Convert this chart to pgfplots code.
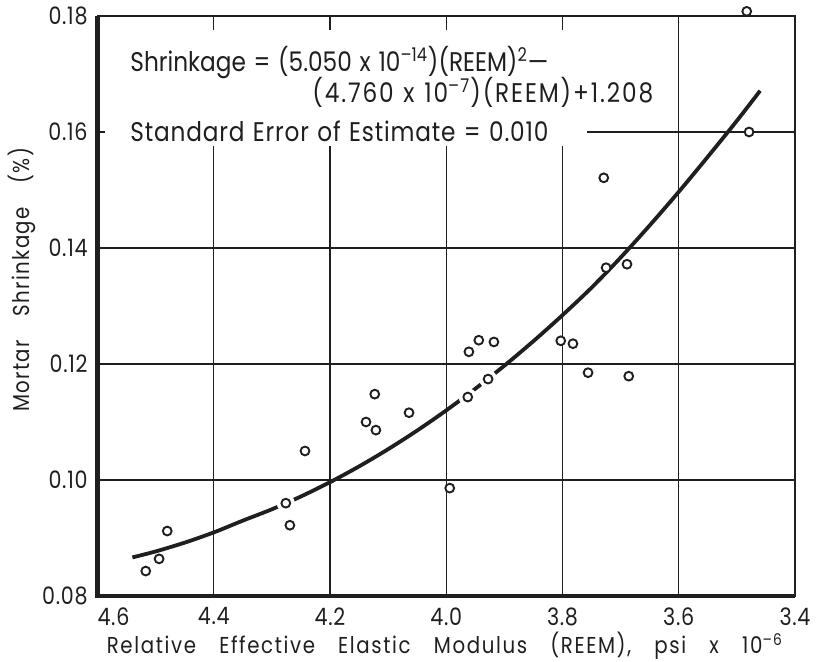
\documentclass[border=0pt]{standalone}
\usepackage{fontspec}
\setmainfont{Poppins}[FakeStretch=0.86]
\usepackage{pgfplots}
\pgfplotsset{compat=1.18}

% measured shrinkage of the mortar bars
\pgfplotstableread{
x      y
3.483  0.1808
3.479  0.1600
3.729  0.1521
3.725  0.1366
3.689  0.1372
3.803  0.1240
3.782  0.1235
3.756  0.1185
3.686  0.1179
3.961  0.1221
3.944  0.1241
3.918  0.1238
3.928  0.1174
3.963  0.1143
3.994  0.0986
4.064  0.1116
4.123  0.1148
4.138  0.1100
4.121  0.1086
4.243  0.1050
4.276  0.0960
4.269  0.0922
4.480  0.0912
4.494  0.0864
4.517  0.0843
}\shrink

\definecolor{ink}{gray}{0.12}
\newcommand\eqfont[1]{\fontsize{13.5}{15}\selectfont\addfontfeature{LetterSpace=#1}}

\begin{document}
\begin{tikzpicture}
\begin{axis}[
  width=348.75pt, height=290pt, scale only axis,
  x dir=reverse,
  xmin=3.4, xmax=4.6, ymin=0.08, ymax=0.18,
  xtick={3.4,3.6,3.8,4.0,4.2,4.4,4.6},
  xticklabels={3.4,3.6,3.8,4.0,4.2,4.4,\hspace{16pt}4.6},
  ytick={0.08,0.10,0.12,0.14,0.16,0.18},
  yticklabels={0.08,0.10,0.12,0.14,0.16,0.18},
  major tick length=0pt,
  grid=major,
  grid style={line width=0.65pt, ink},
  axis line style={line width=0.7pt, ink},
  clip=false,
  tick label style={font=\fontsize{12}{13}\selectfont\addfontfeature{LetterSpace=3}, text=ink},
  xticklabel style={inner sep=0pt, anchor=north, yshift=-5.5pt},
  yticklabel style={inner sep=0pt, anchor=east, xshift=-4.75pt},
  xlabel={\makebox[338pt][s]{Relative Effective Elastic Modulus (REEM), psi x 10\textsuperscript{--6}}},
  ylabel={\makebox[132pt][s]{Mortar Shrinkage (\%)}},
  xlabel style={at={(axis description cs:0.498,-0.1)}, anchor=base, inner sep=0pt,
    font=\fontsize{11.5}{13}\selectfont\addfontfeature{LetterSpace=7}, text=ink},
  ylabel style={at={(axis description cs:-0.1082,0.545)}, anchor=center, inner sep=0pt,
    font=\fontsize{11.5}{13}\selectfont\addfontfeature{LetterSpace=6}, text=ink},
]

% clear the grid behind the equation block
\fill[white] (axis cs:4.587,0.1576) rectangle (axis cs:3.758,0.1776);

\node[anchor=base west, inner sep=0pt, text=ink]
  at (axis cs:4.544,0.17035) {\eqfont{0}\makebox[209pt][s]{Shrinkage = (5.050 x 10\textsuperscript{--14})(REEM)\textsuperscript{2}---}};
\node[anchor=base west, inner sep=0pt, text=ink]
  at (axis cs:4.231,0.1650) {\eqfont{7}\makebox[170.5pt][s]{(4.760 x 10\textsuperscript{--7})(REEM)+1.208}};
\node[anchor=base west, inner sep=0pt, text=ink]
  at (axis cs:4.544,0.15828) {\eqfont{3}\makebox[209pt][s]{Standard Error of Estimate = 0.010}};

% fitted quadratic
\addplot[line width=1.9pt, ink, smooth] coordinates {
  (4.540,0.08665) (4.50,0.08768) (4.45,0.0892) (4.40,0.09096) (4.35,0.09299)
  (4.30,0.09495) (4.25,0.09716) (4.20,0.09962) (4.15,0.10234) (4.10,0.10531)
  (4.05,0.10853) (4.00,0.11200) (3.95,0.11573) (3.90,0.11971) (3.85,0.12394)
  (3.80,0.12842) (3.75,0.13316) (3.70,0.13835) (3.65,0.14389) (3.60,0.14968)
  (3.55,0.15573) (3.50,0.16193) (3.46,0.16711)
};

% breaks in the curve where it runs through a point
\addplot[only marks, mark=*, mark size=4.3pt, mark options={draw=white, fill=white}]
  coordinates {(4.276,0.0960) (3.928,0.1174) (3.963,0.1143)};

\addplot[only marks, mark=*, mark size=2.2pt,
  mark options={line width=0.95pt, draw=ink, fill=white}] table[x=x, y=y] {\shrink};

% heavy left and bottom frame
\draw[line width=2.2pt, ink, line join=miter]
  (axis cs:4.6,0.18) -- (axis cs:4.6,0.08) -- (axis cs:3.4,0.08);
\end{axis}
\coordinate (bl) at ([shift={(-48.75pt,-33pt)}]current axis.south west);
\pgfresetboundingbox
\useasboundingbox (bl) rectangle ++(408pt,331pt);
\end{tikzpicture}
\end{document}
